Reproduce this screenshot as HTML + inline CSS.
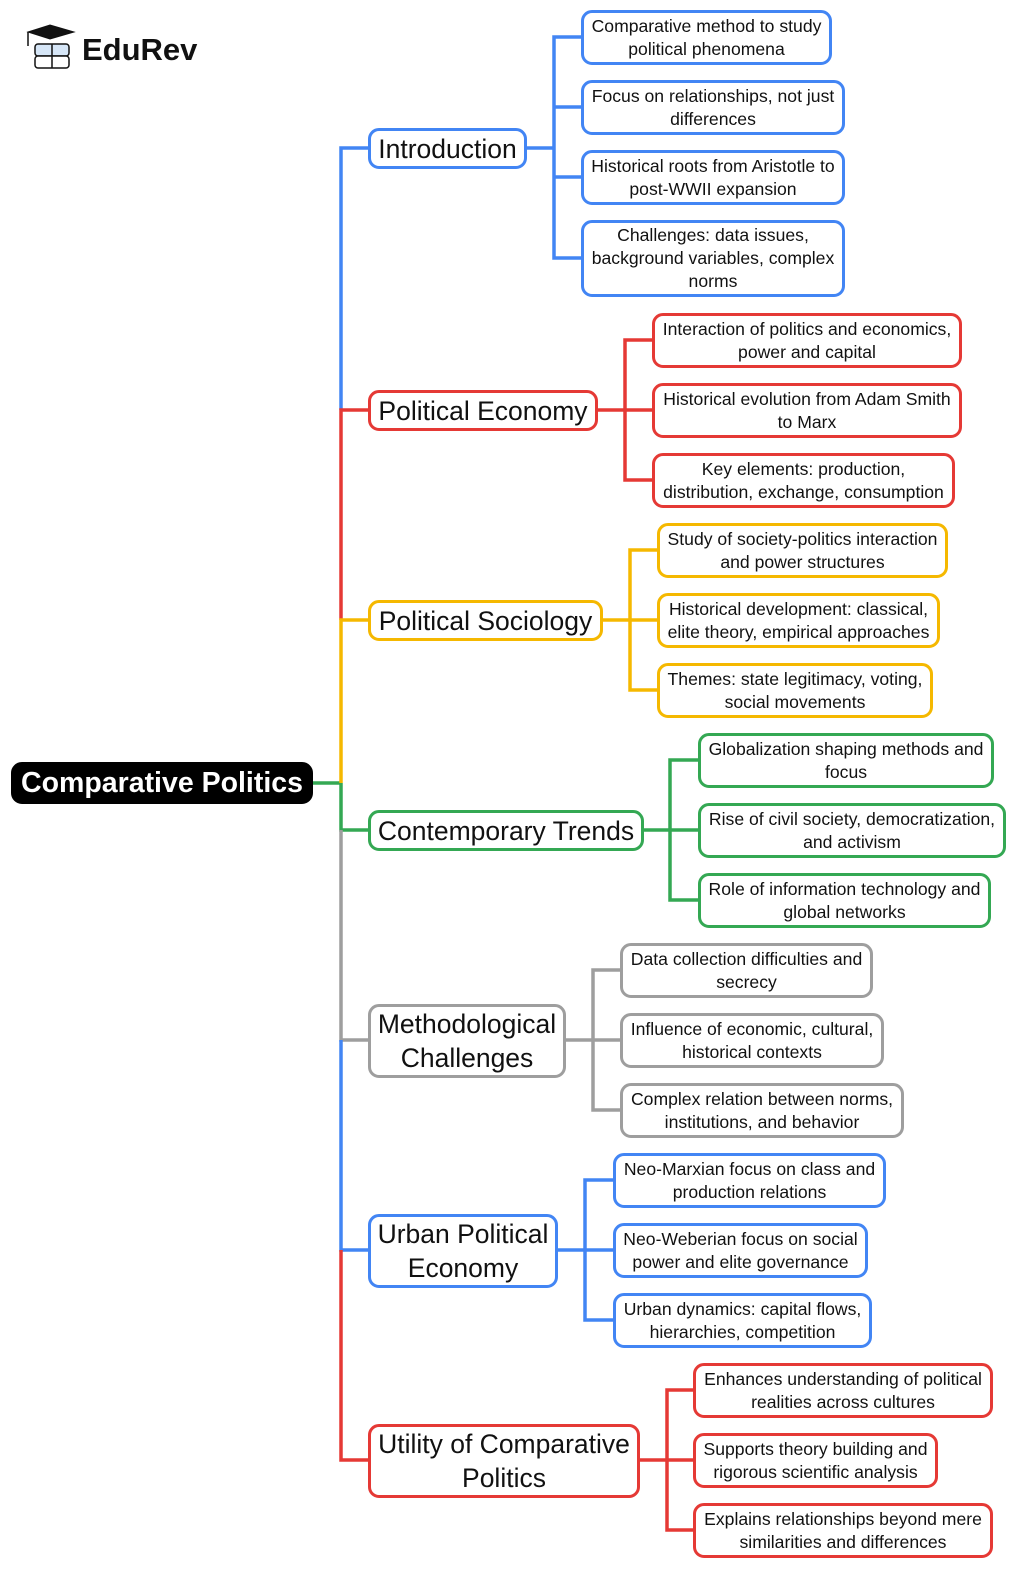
<!DOCTYPE html>
<html><head><meta charset="utf-8"><style>
body{margin:0;width:1024px;height:1581px;background:#fff;position:relative;overflow:hidden;font-family:"Liberation Sans",Arial,sans-serif}
.b{position:absolute;box-sizing:border-box;border:3px solid;border-radius:11px;background:#fff;display:flex;align-items:center;justify-content:center;text-align:center;color:#111}
.l{font-size:17.6px;line-height:23px;padding:0 5px}
.m{font-size:26.5px;line-height:34px;padding:0 6px}
.B{border-color:#4285f4}.R{border-color:#e53935}.Y{border-color:#f5b800}.G{border-color:#34a853}.S{border-color:#9e9e9e}
svg{position:absolute;left:0;top:0}
</style></head><body>
<svg width="1024" height="1581" fill="none" stroke-width="3.5">
<path d="M313 783H341" stroke="#34a853"/>
<path d="M341 410V148H368" stroke="#4285f4"/>
<path d="M341 620V410H368" stroke="#e53935"/>
<path d="M341 783V620H368" stroke="#f5b800"/>
<path d="M341 783V830H368" stroke="#34a853"/>
<path d="M341 830V1040H368" stroke="#9e9e9e"/>
<path d="M341 1040V1250H368" stroke="#4285f4"/>
<path d="M341 1250V1460H368" stroke="#e53935"/>
<path d="M527 148H554M581 37H554V258H581M554 107H581M554 177H581" stroke="#4285f4"/>
<path d="M598 410H625M652 340H625V480H652M625 410H652" stroke="#e53935"/>
<path d="M603 620H630M657 550H630V690H657M630 620H657" stroke="#f5b800"/>
<path d="M644 830H670M698 760H670V900H698M670 830H698" stroke="#34a853"/>
<path d="M566 1040H593M620 970H593V1110H620M593 1040H620" stroke="#9e9e9e"/>
<path d="M558 1250H585M613 1180H585V1320H613M585 1250H613" stroke="#4285f4"/>
<path d="M640 1460H667M693 1390H667V1530H693M667 1460H693" stroke="#e53935"/>
<path d="M28 32L50 25L74 32L50 39Z" fill="#111" stroke="#111" stroke-width="1"/>
<path d="M28 32V46" stroke="#111" stroke-width="1.5"/>
<rect x="35" y="44" width="34" height="12" rx="3" fill="#d6e6f7" stroke="#111" stroke-width="1.5"/>
<rect x="35" y="56" width="34" height="12" rx="3" fill="#fff" stroke="#111" stroke-width="1.5"/>
<path d="M52 44V68" stroke="#111" stroke-width="1.5"/>
</svg>
<div style="position:absolute;left:82px;top:32px;font-size:31px;font-weight:bold;color:#111">EduRev</div>
<div class="b" style="left:11px;top:762px;width:302px;height:42px;background:#000;border-color:#000;color:#fff;font-size:28.5px;font-weight:bold">Comparative Politics</div>

<div class="b m B" style="left:368px;top:128px;width:159px;height:41px">Introduction</div>
<div class="b m R" style="left:368px;top:390px;width:230px;height:41px">Political Economy</div>
<div class="b m Y" style="left:368px;top:600px;width:235px;height:41px">Political Sociology</div>
<div class="b m G" style="left:368px;top:810px;width:276px;height:41px">Contemporary Trends</div>
<div class="b m S" style="left:368px;top:1004px;width:198px;height:74px">Methodological Challenges</div>
<div class="b m B" style="left:368px;top:1214px;width:190px;height:74px">Urban Political Economy</div>
<div class="b m R" style="left:368px;top:1424px;width:272px;height:74px">Utility of Comparative Politics</div>

<div class="b l B" style="left:581px;top:10px;width:251px;height:55px">Comparative method to study political phenomena</div>
<div class="b l B" style="left:581px;top:80px;width:264px;height:55px">Focus on relationships, not just differences</div>
<div class="b l B" style="left:581px;top:150px;width:264px;height:55px">Historical roots from Aristotle to post-WWII expansion</div>
<div class="b l B" style="left:581px;top:220px;width:264px;height:77px">Challenges: data issues, background variables, complex norms</div>

<div class="b l R" style="left:652px;top:313px;width:310px;height:55px">Interaction of politics and economics, power and capital</div>
<div class="b l R" style="left:652px;top:383px;width:310px;height:55px">Historical evolution from Adam Smith to Marx</div>
<div class="b l R" style="left:652px;top:453px;width:303px;height:55px">Key elements: production, distribution, exchange, consumption</div>

<div class="b l Y" style="left:657px;top:523px;width:291px;height:55px">Study of society-politics interaction and power structures</div>
<div class="b l Y" style="left:657px;top:593px;width:283px;height:55px">Historical development: classical, elite theory, empirical approaches</div>
<div class="b l Y" style="left:657px;top:663px;width:276px;height:55px">Themes: state legitimacy, voting, social movements</div>

<div class="b l G" style="left:698px;top:733px;width:296px;height:55px">Globalization shaping methods and focus</div>
<div class="b l G" style="left:698px;top:803px;width:308px;height:55px">Rise of civil society, democratization, and activism</div>
<div class="b l G" style="left:698px;top:873px;width:293px;height:55px">Role of information technology and global networks</div>

<div class="b l S" style="left:620px;top:943px;width:253px;height:55px">Data collection difficulties and secrecy</div>
<div class="b l S" style="left:620px;top:1013px;width:264px;height:55px">Influence of economic, cultural, historical contexts</div>
<div class="b l S" style="left:620px;top:1083px;width:284px;height:55px">Complex relation between norms, institutions, and behavior</div>

<div class="b l B" style="left:613px;top:1153px;width:273px;height:55px">Neo-Marxian focus on class and production relations</div>
<div class="b l B" style="left:613px;top:1223px;width:255px;height:55px">Neo-Weberian focus on social power and elite governance</div>
<div class="b l B" style="left:613px;top:1293px;width:259px;height:55px">Urban dynamics: capital flows, hierarchies, competition</div>

<div class="b l R" style="left:693px;top:1363px;width:300px;height:55px">Enhances understanding of political realities across cultures</div>
<div class="b l R" style="left:693px;top:1433px;width:245px;height:55px">Supports theory building and rigorous scientific analysis</div>
<div class="b l R" style="left:693px;top:1503px;width:300px;height:55px">Explains relationships beyond mere similarities and differences</div>
</body></html>
